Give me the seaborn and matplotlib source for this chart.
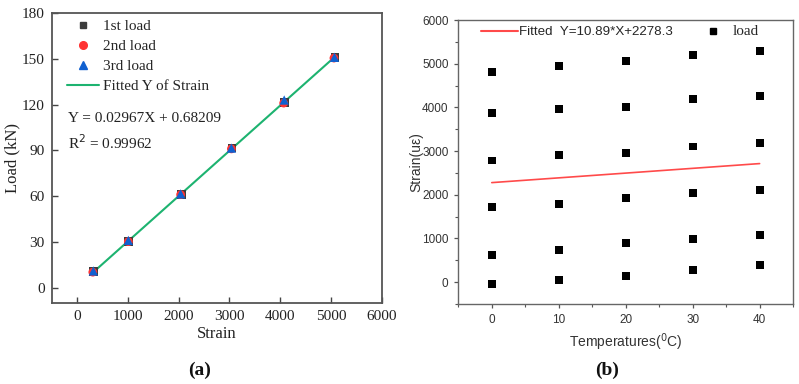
import matplotlib
matplotlib.use("Agg")
import matplotlib.pyplot as plt
import seaborn as sns
import pandas as pd
from matplotlib.lines import Line2D

sns.set_theme(style="white")

# ---- Panel (a) data ----
strain_1st = [330, 1020, 2050, 3050, 4080, 5080]
load_1st = [10.5, 30.5, 61.0, 91.5, 121.5, 151.0]
strain_2nd = [310, 1010, 2040, 3040, 4070, 5060]
load_2nd = [10.2, 30.2, 61.0, 91.0, 121.0, 150.5]
strain_3rd = [320, 1010, 2040, 3040, 4080, 5070]
load_3rd = [11.0, 31.0, 61.5, 91.5, 123.0, 151.0]
fit_a_x = [310, 5080]
fit_a_slope = 0.02967
fit_a_icpt = 0.68209
x_ticks_a = [0, 1000, 2000, 3000, 4000, 5000, 6000]
y_ticks_a = [0, 30, 60, 90, 120, 150, 180]

# ---- Panel (b) data ----
temps = [0, 10, 20, 30, 40]
strain_T0 = [4803, 3862, 2784, 1729, 612, -46]
strain_T10 = [4940, 3961, 2906, 1798, 743, 55]
strain_T20 = [5069, 4014, 2959, 1927, 888, 147]
strain_T30 = [5200, 4183, 3105, 2041, 986, 284]
strain_T40 = [5298, 4259, 3181, 2119, 1087, 399]
fit_b_slope = 10.89
fit_b_icpt = 2278.3
x_ticks_b = [0, 10, 20, 30, 40]
y_ticks_b = [0, 1000, 2000, 3000, 4000, 5000, 6000]

SERIF = ["Liberation Serif", "DejaVu Serif"]
SANS = ["Liberation Sans", "DejaVu Sans"]

fig = plt.figure(figsize=(7.99, 3.84), dpi=100)
ax1 = fig.add_axes([0.0647, 0.211, 0.413, 0.755])
ax2 = fig.add_axes([0.5736, 0.2083, 0.419, 0.7396])

# ---------- Panel (a) ----------
df_fit_a = pd.DataFrame({"x": fit_a_x,
                         "y": [fit_a_slope * v + fit_a_icpt for v in fit_a_x]})
sns.lineplot(data=df_fit_a, x="x", y="y", ax=ax1, color="#1db370", lw=1.5, zorder=2)
sns.scatterplot(x=strain_1st, y=load_1st, ax=ax1, marker="s", color="#3c3c3c",
                s=40, edgecolor="none", zorder=3)
sns.scatterplot(x=strain_2nd, y=load_2nd, ax=ax1, marker="o", color="#ff3333",
                s=40, edgecolor="none", zorder=4)
sns.scatterplot(x=strain_3rd, y=load_3rd, ax=ax1, marker="^", color="#1060d0",
                s=45, edgecolor="none", zorder=5)
ax1.set_xlim(-500, 6000)
ax1.set_ylim(-10, 180)
ax1.set_xticks(x_ticks_a)
ax1.set_yticks(y_ticks_a)
for lab in ax1.get_xticklabels() + ax1.get_yticklabels():
    lab.set_fontfamily(SERIF)
    lab.set_fontsize(11)
    lab.set_color("#222222")
ax1.tick_params(direction="in", length=4, width=1, color="#444444", pad=5,
                bottom=True, left=True)
for sp in ax1.spines.values():
    sp.set_color("#555555")
    sp.set_linewidth(1.3)
ax1.set_xlabel("Strain", fontfamily=SERIF, fontsize=12, color="#222222", labelpad=2)
ax1.set_ylabel("Load (kN)", fontfamily=SERIF, fontsize=12, color="#222222", labelpad=1)
handles_a = [
    Line2D([], [], ls="none", marker="s", color="#3c3c3c", markersize=5),
    Line2D([], [], ls="none", marker="o", color="#ff3333", markersize=5.5),
    Line2D([], [], ls="none", marker="^", color="#1060d0", markersize=6),
    Line2D([], [], color="#1db370", lw=1.5),
]
ax1.legend(handles_a, ["1st load", "2nd load", "3rd load", "Fitted Y of Strain"],
           loc="upper left", bbox_to_anchor=(0.028, 1.0), frameon=False,
           prop={"family": SERIF, "size": 11}, handlelength=2.1,
           labelspacing=0.42, handletextpad=0.28, borderaxespad=0.0)
ax1.text(-180, 111, "Y = 0.02967X + 0.68209", fontfamily=SERIF, fontsize=11,
         va="center", ha="left", color="#222222")
ax1.text(-180, 95, "R$^2$ = 0.99962", fontfamily=SERIF, fontsize=11,
         va="center", ha="left", color="#222222")

# ---------- Panel (b) ----------
rows = []
for t, vals in zip(temps, [strain_T0, strain_T10, strain_T20, strain_T30, strain_T40]):
    for v in vals:
        rows.append({"T": t, "S": v})
df_b = pd.DataFrame(rows)
df_fit_b = pd.DataFrame({"T": [temps[0], temps[-1]],
                         "S": [fit_b_slope * temps[0] + fit_b_icpt,
                               fit_b_slope * temps[-1] + fit_b_icpt]})
sns.lineplot(data=df_fit_b, x="T", y="S", ax=ax2, color="#ff4a4a", lw=1.2, zorder=2)
sns.scatterplot(data=df_b, x="T", y="S", ax=ax2, marker="s", color="black",
                s=32, edgecolor="none", zorder=3)
ax2.set_xlim(-5, 45)
ax2.set_ylim(-500, 6000)
ax2.set_xticks(x_ticks_b)
ax2.set_yticks(y_ticks_b)
ax2.set_xticks([-5, 5, 15, 25, 35, 45], minor=True)
ax2.set_yticks([-500, 500, 1500, 2500, 3500, 4500, 5500], minor=True)
for lab in ax2.get_xticklabels() + ax2.get_yticklabels():
    lab.set_fontfamily(SANS)
    lab.set_fontsize(8.5)
    lab.set_color("#333333")
ax2.tick_params(which="major", direction="out", length=3, width=0.9,
                color="#555555", pad=4, bottom=True, left=True)
ax2.tick_params(which="minor", direction="out", length=2, width=0.8,
                color="#555555", bottom=True, left=True)
for sp in ax2.spines.values():
    sp.set_color("#666666")
    sp.set_linewidth(1.0)
ax2.set_xlabel("Temperatures($^{0}$C)", fontfamily=SANS, fontsize=10,
               color="#333333", labelpad=4)
ax2.set_ylabel("Strain(u\u03b5)", fontfamily=SANS, fontsize=10,
               color="#333333", labelpad=-1)
handles_b = [Line2D([], [], color="#ff4a4a", lw=1.5),
             Line2D([], [], ls="none", marker="s", color="black", markersize=4.5)]
leg_b = ax2.legend(handles_b, ["Fitted  Y=10.89*X+2278.3", "load"], loc="upper left",
                   bbox_to_anchor=(0.052, 1.0), ncol=2, frameon=False,
                   prop={"family": SANS, "size": 9.6}, handlelength=2.8,
                   handletextpad=0.08, columnspacing=1.6, borderaxespad=0.0)
leg_b.get_texts()[1].set_fontfamily(SERIF)
leg_b.get_texts()[1].set_fontsize(11)

fig.text(0.2503, 0.035, "(a)", fontfamily=SERIF, fontsize=14, ha="center",
         va="center", fontweight="bold", color="#111111")
fig.text(0.7597, 0.035, "(b)", fontfamily=SERIF, fontsize=14, ha="center",
         va="center", fontweight="bold", color="#111111")

fig.savefig("out.png", dpi=100)
